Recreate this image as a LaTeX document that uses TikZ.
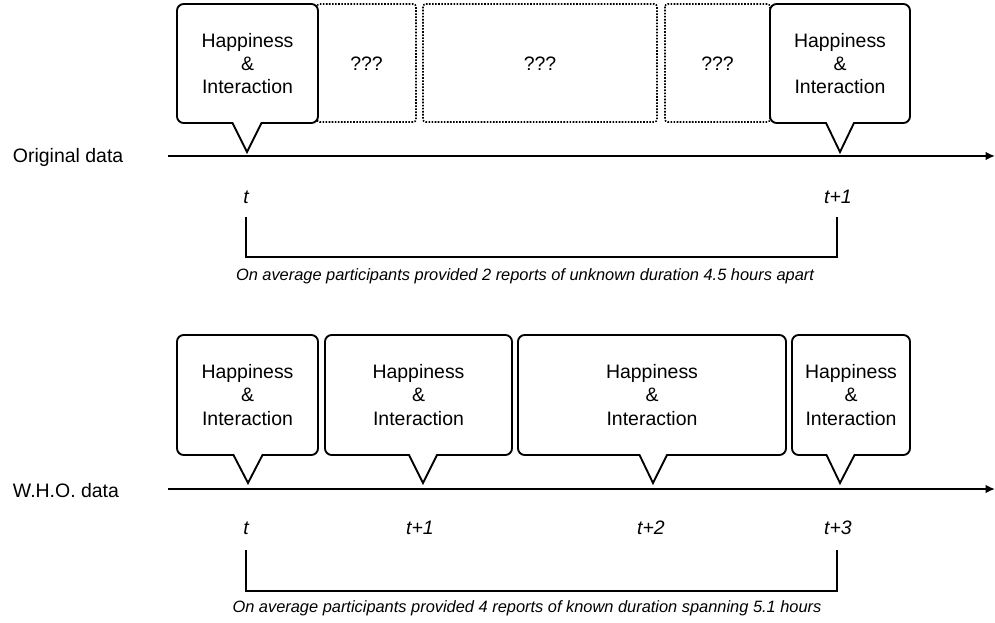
\documentclass[tikz,border=0pt]{standalone}
\usepackage{fontspec}
\setmainfont{Liberation Sans}
\usetikzlibrary{arrows.meta}

\tikzset{
	callout/.style={draw=black, line width=1.4pt, fill=white, line join=miter},
	unknown/.style={draw=black, line width=1.2pt, dash pattern=on 1.2pt off 1.1pt, rounded corners=2pt},
	timeline/.style={line width=1.4pt, -{Latex[length=7pt,width=6.5pt]}},
	bracket/.style={line width=1.3pt},
	report/.style={align=center, font=\fontsize{14.6}{17.5}\selectfont},
	stamp/.style={font=\fontsize{14.6}{17.5}\selectfont\itshape},
	row label/.style={anchor=west, font=\fontsize{14.6}{17.5}\selectfont},
	caption/.style={font=\fontsize{12.3}{14}\selectfont\itshape}
}
\tikzset{every picture/.style={line width=0.75pt}}

\begin{document}
\begin{tikzpicture}[x=0.75pt,y=0.75pt,yscale=-1,xscale=1]
	\useasboundingbox (0,0) rectangle (995,623);

	% ---------- original data ----------
	%Shape: Dotted Rect [id:unknown1]
	\draw [unknown] (317,4) rectangle (416,122);
	%Shape: Dotted Rect [id:unknown2]
	\draw [unknown] (423,4) rectangle (657,122);
	%Shape: Dotted Rect [id:unknown3]
	\draw [unknown] (665,4) rectangle (770,122);
	%Shape: Callout [id:orig1]
	\draw [callout] (247,152) -- (232.5,123) [rounded corners=5pt] -- (177,123) -- (177,4) -- (318,4) -- (318,123) [sharp corners] -- (261.5,123) -- cycle ;
	%Shape: Callout [id:orig2]
	\draw [callout] (840,152) -- (826,123) [rounded corners=5pt] -- (770,123) -- (770,4) -- (910,4) -- (910,123) [sharp corners] -- (854,123) -- cycle ;

	% Text Node
	\node [report] (orig report1) at (247.5,63.5) {Happiness\\\&\\Interaction};
	% Text Node
	\node [report] (orig gap1) at (366.5,63.5) {???};
	% Text Node
	\node [report] (orig gap2) at (540,63.5) {???};
	% Text Node
	\node [report] (orig gap3) at (717.5,63.5) {???};
	% Text Node
	\node [report] (orig report2) at (840,63.5) {Happiness\\\&\\Interaction};

	% Text Node
	\node [row label] (orig label) at (8,157) {Original data};
	\coordinate (orig start) at (168,156);
	\coordinate (orig end) at (995,156);
	\draw [timeline] (orig start) -- (orig end);

	% Text Node
	\node [stamp] (orig t0) at (246,197) {t};
	% Text Node
	\node [stamp] (orig t1) at (838,197) {t+1};
	\coordinate (orig left) at (246,217);
	\coordinate (orig right) at (837,217);
	\coordinate (orig corner) at (837,257);
	\draw [bracket] (orig left) |- (orig corner) -- (orig right);
	% Text Node
	\node [caption] (orig caption) at (525,276) {On average participants provided 2 reports of unknown duration 4.5 hours apart};

	% ---------- W.H.O. data ----------
	%Shape: Callout [id:who1]
	\draw [callout] (248,483) -- (233.5,455) [rounded corners=5pt] -- (177,455) -- (177,335) -- (318,335) -- (318,455) [sharp corners] -- (262.5,455) -- cycle ;
	%Shape: Callout [id:who2]
	\draw [callout] (423,483) -- (409,455) [rounded corners=5pt] -- (325,455) -- (325,335) -- (512,335) -- (512,455) [sharp corners] -- (437,455) -- cycle ;
	%Shape: Callout [id:who3]
	\draw [callout] (653,483) -- (639.5,455) [rounded corners=5pt] -- (518,455) -- (518,335) -- (786,335) -- (786,455) [sharp corners] -- (667,455) -- cycle ;
	%Shape: Callout [id:who4]
	\draw [callout] (840,483) -- (826.5,455) [rounded corners=5pt] -- (792,455) -- (792,335) -- (910,335) -- (910,455) [sharp corners] -- (854.5,455) -- cycle ;

	% Text Node
	\node [report] (who report1) at (247.5,395) {Happiness\\\&\\Interaction};
	% Text Node
	\node [report] (who report2) at (418.5,395) {Happiness\\\&\\Interaction};
	% Text Node
	\node [report] (who report3) at (652,395) {Happiness\\\&\\Interaction};
	% Text Node
	\node [report] (who report4) at (851,395) {Happiness\\\&\\Interaction};

	% Text Node
	\node [row label] (who label) at (8,491) {W.H.O. data};
	\coordinate (who start) at (168,489);
	\coordinate (who end) at (995,489);
	\draw [timeline] (who start) -- (who end);

	% Text Node
	\node [stamp] (who t0) at (246,528) {t};
	% Text Node
	\node [stamp] (who t1) at (420,528) {t+1};
	% Text Node
	\node [stamp] (who t2) at (651,528) {t+2};
	% Text Node
	\node [stamp] (who t3) at (838,528) {t+3};
	\coordinate (who left) at (246,550);
	\coordinate (who right) at (837,550);
	\coordinate (who corner) at (837,591);
	\draw [bracket] (who left) |- (who corner) -- (who right);
	% Text Node
	\node [caption] (who caption) at (527,608) {On average participants provided 4 reports of known duration spanning 5.1 hours};

\end{tikzpicture}
\end{document}
